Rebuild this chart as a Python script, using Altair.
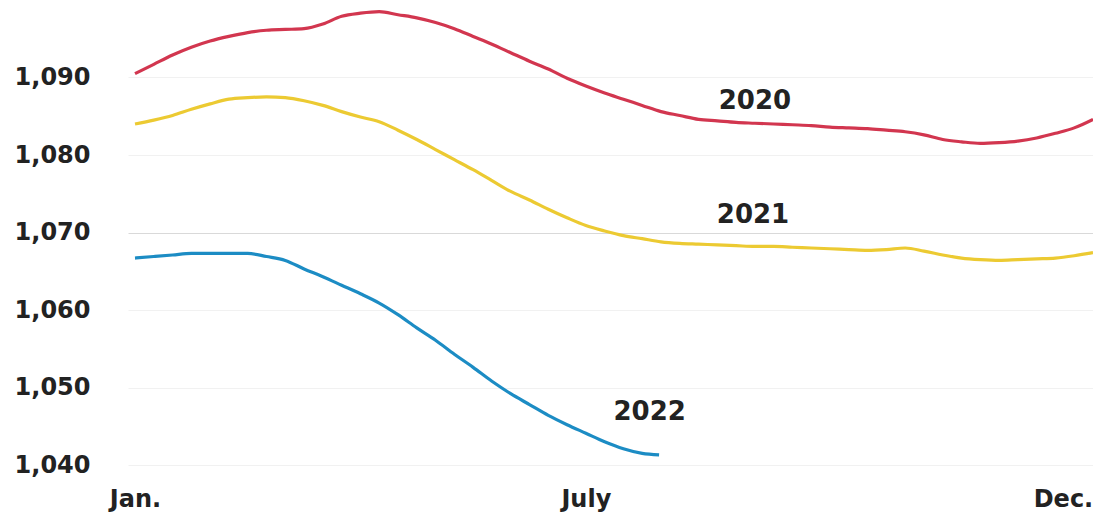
import altair as alt
import pandas as pd

# weekly readings (week 0 = start of January)
weeks = list(range(52))
v2020 = [1090.5, 1091.7, 1092.9, 1093.9, 1094.7, 1095.3, 1095.8, 1096.1, 1096.2, 1096.3,
         1096.9, 1097.9, 1098.3, 1098.5, 1098.1, 1097.7, 1097.1, 1096.3, 1095.3, 1094.3,
         1093.2, 1092.1, 1091.1, 1089.9, 1088.9, 1088.0, 1087.2, 1086.4, 1085.6, 1085.1,
         1084.6, 1084.4, 1084.2, 1084.1, 1084.0, 1083.9, 1083.8, 1083.6, 1083.5, 1083.4,
         1083.2, 1083.0, 1082.6, 1082.0, 1081.7, 1081.5, 1081.6, 1081.8, 1082.2, 1082.8,
         1083.5, 1084.6]
v2021 = [1084.0, 1084.5, 1085.1, 1085.9, 1086.6, 1087.2, 1087.4, 1087.5, 1087.4, 1087.0,
         1086.4, 1085.6, 1084.9, 1084.3, 1083.2, 1082.0, 1080.7, 1079.4, 1078.1, 1076.7,
         1075.3, 1074.2, 1073.0, 1071.9, 1070.9, 1070.2, 1069.6, 1069.2, 1068.8, 1068.6,
         1068.5, 1068.4, 1068.3, 1068.2, 1068.2, 1068.1, 1068.0, 1067.9, 1067.8, 1067.7,
         1067.8, 1068.0, 1067.6, 1067.1, 1066.7, 1066.5, 1066.4, 1066.5, 1066.6, 1066.7,
         1067.0, 1067.4]
weeks_2022 = list(range(28)) + [27.9]
v2022 = [1066.7, 1066.9, 1067.1, 1067.3, 1067.3, 1067.3, 1067.3, 1066.9, 1066.4, 1065.3,
         1064.3, 1063.2, 1062.1, 1060.9, 1059.4, 1057.7, 1056.1, 1054.3, 1052.6, 1050.8,
         1049.2, 1047.8, 1046.4, 1045.2, 1044.1, 1043.0, 1042.1, 1041.5, 1041.3]

years = ["2020", "2021", "2022"]
colors = ["#d2364f", "#ecca32", "#1c8cc4"]

label_weeks = [33.0, 32.9, 27.4]
label_values = [1087.0, 1072.3, 1046.8]

tick_weeks = [0, 24, 49.4]
tick_labels = ["Jan.", "July", "Dec."]
y_ticks = [1040, 1050, 1060, 1070, 1080, 1090]

rows = []
for w, v in zip(weeks, v2020):
    rows.append({"year": "2020", "week": w, "value": v})
for w, v in zip(weeks, v2021):
    rows.append({"year": "2021", "week": w, "value": v})
for w, v in zip(weeks_2022, v2022):
    rows.append({"year": "2022", "week": w, "value": v})
df = pd.DataFrame(rows)

labels_df = pd.DataFrame({"year": years, "week": label_weeks, "value": label_values})

label_expr = " : ".join(
    f"datum.value == {t} ? '{l}'" for t, l in zip(tick_weeks[:-1], tick_labels[:-1])
) + f" : '{tick_labels[-1]}'"

x_scale = alt.Scale(domain=[-0.373, 51], nice=False, zero=False)
y_scale = alt.Scale(domain=[1040, 1100], nice=False, zero=False)

lines = alt.Chart(df).mark_line(strokeWidth=3.2, interpolate="monotone").encode(
    x=alt.X("week:Q", scale=x_scale,
            axis=alt.Axis(values=tick_weeks, labelExpr=label_expr, title=None, grid=False,
                          domain=False, ticks=False, labelFont="DejaVu Sans",
                          labelFontWeight="bold", labelFontSize=24, labelColor="#222222",
                          labelPadding=22, labelFlush=False, labelBaseline="top")),
    y=alt.Y("value:Q", scale=y_scale,
            axis=alt.Axis(values=y_ticks, format=",", title=None, domain=False, ticks=False,
                          labelFont="DejaVu Sans", labelFontWeight="bold", labelFontSize=24,
                          labelColor="#222222", labelPadding=38,
                          gridColor={"condition": {"test": "datum.value == 1070", "value": "#d9d9d9"},
                                     "value": "#f1f1f1"},
                          gridWidth=1.2)),
    color=alt.Color("year:N", scale=alt.Scale(domain=years, range=colors), legend=None),
)

texts = alt.Chart(labels_df).mark_text(font="DejaVu Sans", fontWeight="bold", fontSize=26,
                                       color="#222222", align="center", baseline="middle").encode(
    x=alt.X("week:Q", scale=x_scale),
    y=alt.Y("value:Q", scale=y_scale),
    text="year:N",
)

chart = alt.layer(lines, texts).properties(
    width=965, height=465,
    padding={"left": 128, "top": 0, "right": 0, "bottom": 50},
    autosize="none",
    background="white",
).configure_view(stroke=None)

chart.save("out.html", embed_options={"renderer": "svg", "actions": False})
